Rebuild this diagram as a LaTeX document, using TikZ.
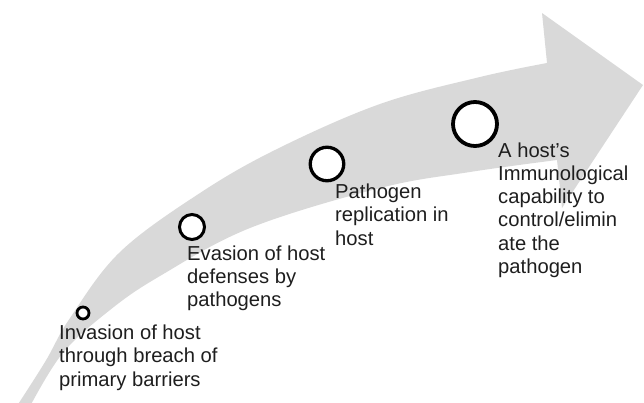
\documentclass[tikz,border=0pt]{standalone}
\usepackage{fontspec}
\setmainfont{Liberation Sans}
\definecolor{arrowgray}{HTML}{D9D9D9}
\definecolor{inkgray}{HTML}{1E1E1E}
\tikzset{
  ring/.style={circle, draw=black, fill=white, inner sep=0pt},
  label/.style={anchor=base west, inner sep=0pt, align=left, text=inkgray,
    font=\fontsize{20.2}{23.3}\selectfont}
}
\begin{document}
\begin{tikzpicture}[x=1pt,y=-1pt]
\useasboundingbox (0,0) rectangle (644,402);
\clip (0,0) rectangle (644,402);
% curved arrow
\fill[arrowgray]
  plot[smooth, tension=0.6] coordinates {(13,412) (45,362) (70,318) (120,252) (200,193) (277,149) (380,104) (480,77) (547,63)}
  -- (542,13) -- (643,85) -- (562,208) -- (557,160)
  -- plot[smooth, tension=0.6] coordinates {(557,160) (470,172) (380,188) (250,228) (160,276) (110,310) (62,354) (27,412)}
  -- cycle;
% stage markers
\node[ring, line width=2.8pt, minimum size=12pt] (c1) at (83,313) {};
\node[ring, line width=3pt, minimum size=25pt] (c2) at (192,227) {};
\node[ring, line width=3.3pt, minimum size=33.5pt] (c3) at (327,164) {};
\node[ring, line width=3.8pt, minimum size=44pt] (c4) at (475,124) {};
% labels (anchored at the baseline of their last line)
\node[label] (t1) at (59,386.1) {Invasion of host\\through breach of\\primary barriers};
\node[label] (t2) at (187,306.6) {Evasion of host\\defenses by\\pathogens};
\node[label] (t3) at (335,245.1) {Pathogen\\replication in\\host};
\node[label] (t4) at (498,273.5) {A host’s\\Immunological\\capability to\\control/elimin\\ate the\\pathogen};
\end{tikzpicture}
\end{document}
